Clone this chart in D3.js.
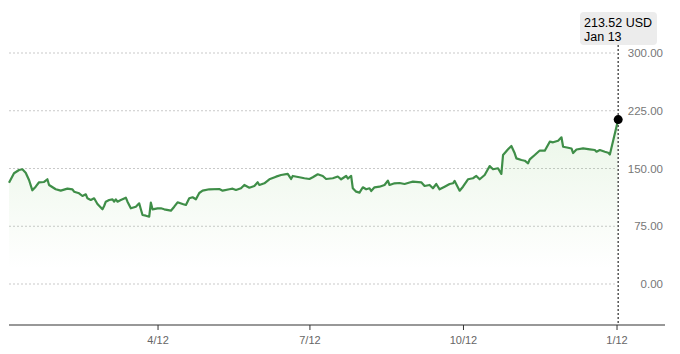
<!DOCTYPE html>
<html>
<head>
<meta charset="utf-8">
<script src="https://cdn.jsdelivr.net/npm/d3@7"></script>
<style>
body { margin: 0; background: #fff; }
svg { display: block; font-family: "Liberation Sans", Arial, sans-serif; }
</style>
</head>
<body>
<div id="canvas_stock"></div>
<script>
// ----------------------------------------------------------
// DATA -----------------------------------------------------
// ----------------------------------------------------------
var price_dates = [
"2021-01-13","2021-01-16","2021-01-19","2021-01-21","2021-01-23","2021-01-25","2021-01-27","2021-01-29","2021-01-31",
"2021-02-03","2021-02-05","2021-02-06","2021-02-10","2021-02-13","2021-02-17","2021-02-20","2021-02-21","2021-02-24","2021-02-26","2021-02-28",
"2021-03-01","2021-03-03","2021-03-05","2021-03-07","2021-03-10","2021-03-11","2021-03-12","2021-03-14","2021-03-16","2021-03-17","2021-03-18","2021-03-19","2021-03-21","2021-03-24","2021-03-25","2021-03-27","2021-03-30",
"2021-04-01","2021-04-02","2021-04-03","2021-04-05","2021-04-07","2021-04-08","2021-04-09","2021-04-12","2021-04-14","2021-04-16","2021-04-20","2021-04-22","2021-04-24","2021-04-27","2021-04-29",
"2021-05-01","2021-05-03","2021-05-05","2021-05-07","2021-05-09","2021-05-13","2021-05-19","2021-05-21","2021-05-25","2021-05-27","2021-05-29",
"2021-06-01","2021-06-03","2021-06-06","2021-06-09","2021-06-11","2021-06-12","2021-06-15","2021-06-18","2021-06-22","2021-06-25","2021-06-29",
"2021-07-01","2021-07-02","2021-07-06","2021-07-09","2021-07-12","2021-07-14","2021-07-17","2021-07-20","2021-07-22","2021-07-26","2021-07-29","2021-07-31",
"2021-08-03","2021-08-04","2021-08-06","2021-08-07","2021-08-09","2021-08-11","2021-08-13","2021-08-15","2021-08-17","2021-08-18","2021-08-20","2021-08-23","2021-08-26","2021-08-28","2021-08-29",
"2021-09-01","2021-09-04","2021-09-07","2021-09-10","2021-09-12","2021-09-17","2021-09-19","2021-09-22","2021-09-24","2021-09-26","2021-09-28",
"2021-10-01","2021-10-04","2021-10-06","2021-10-07","2021-10-10","2021-10-12","2021-10-15","2021-10-18","2021-10-20","2021-10-22","2021-10-25","2021-10-28","2021-10-30",
"2021-11-02","2021-11-04","2021-11-05","2021-11-08","2021-11-10","2021-11-12","2021-11-13","2021-11-16","2021-11-18","2021-11-20","2021-11-21","2021-11-24","2021-11-27","2021-11-30",
"2021-12-03","2021-12-05","2021-12-08","2021-12-10","2021-12-11","2021-12-14","2021-12-16","2021-12-17","2021-12-19","2021-12-23","2021-12-27","2021-12-30","2021-12-31",
"2022-01-02","2022-01-05","2022-01-07","2022-01-08","2022-01-13"
];
var price_values = [
131.6,143.8,148.1,149.0,144.5,135.1,121.7,126.4,132.1,
132.5,136.0,128.6,123.0,121.2,123.8,123.0,119.9,117.8,114.3,116.5,
111.3,109.1,111.3,103.9,97.0,101.3,106.9,109.1,110.0,106.9,110.0,106.9,109.1,112.1,106.9,98.3,100.4,
104.8,97.0,89.6,88.7,87.4,105.6,97.0,98.3,98.3,97.0,95.2,100.4,106.1,103.9,102.6,
111.3,112.6,110.0,118.2,121.2,123.0,123.4,121.2,123.0,123.8,122.1,
124.3,128.6,125.1,127.3,132.1,128.6,130.8,136.0,139.4,141.6,143.1,
136.4,140.3,138.6,137.3,136.4,138.6,142.5,140.3,136.4,137.3,139.6,136.0,
140.3,137.0,140.3,124.3,119.9,118.6,125.6,123.0,124.3,120.8,125.6,126.4,128.6,134.2,128.6,
130.8,131.2,129.9,131.8,132.9,132.1,127.3,128.6,124.3,129.9,123.0,
126.4,129.9,130.8,133.8,121.2,126.4,136.0,137.3,140.3,136.0,141.6,153.2,149.0,
150.3,142.9,167.5,174.9,179.2,169.7,163.2,161.0,160.1,156.8,161.9,167.5,173.4,173.1,
184.8,184.0,186.1,190.5,178.3,177.0,176.0,170.1,174.7,176.2,174.9,174.0,171.8,
174.0,171.8,170.5,168.2,213.52
];
var y_ticks = [0, 75, 150, 225, 300];
var x_ticks = ["2021-04-12", "2021-07-12", "2021-10-12", "2022-01-12"];
var tooltip_price = "213.52 USD";
var tooltip_date = "Jan 13";

// ----------------------------------------------------------
// STRUCTURE ------------------------------------------------
// ----------------------------------------------------------
var width = 680, height = 354;
var parseDate = d3.timeParse("%Y-%m-%d");

var points = price_dates.map(function(d, i) {
  return { date: parseDate(d), value: price_values[i] };
});

var svg = d3.select("#canvas_stock").append("svg")
  .attr("width", width)
  .attr("height", height)
  .style("background-color", "#fff");

var xScale = d3.scaleTime()
  .domain([parseDate("2021-01-13"), parseDate("2022-01-13")])
  .range([9, 618.2]);

var yScale = d3.scaleLinear()
  .domain([0, 300])
  .range([284, 53]);

var axis_y = 325;
var last = points[points.length - 1];

// gradient for area
var defs = svg.append("defs");
var grad = defs.append("linearGradient")
  .attr("id", "area_grad")
  .attr("gradientUnits", "userSpaceOnUse")
  .attr("x1", 0).attr("x2", 0)
  .attr("y1", yScale(190)).attr("y2", yScale(20));
grad.append("stop").attr("offset", 0).attr("stop-color", "#7cc56a").attr("stop-opacity", 0.14);
grad.append("stop").attr("offset", 1).attr("stop-color", "#7cc56a").attr("stop-opacity", 0);

// ----------------------------------------------------------
// GRID + Y LABELS ------------------------------------------
// ----------------------------------------------------------
var grid = svg.append("g").attr("class", "grid");
grid.selectAll("line")
  .data(y_ticks)
  .enter().append("line")
  .attr("x1", 9)
  .attr("x2", 615)
  .attr("y1", function(d) { return yScale(d); })
  .attr("y2", function(d) { return yScale(d); })
  .attr("stroke", "#c9c9c9")
  .attr("stroke-width", 1)
  .attr("stroke-dasharray", "2,2");

grid.selectAll("text")
  .data(y_ticks)
  .enter().append("text")
  .attr("x", 663)
  .attr("y", function(d) { return yScale(d); })
  .attr("dy", "0.35em")
  .attr("text-anchor", "end")
  .style("font-size", "11.5px")
  .style("fill", "#777")
  .text(function(d) { return d3.format(".2f")(d); });

// ----------------------------------------------------------
// AREA + LINE ----------------------------------------------
// ----------------------------------------------------------
svg.append("path")
  .datum(points)
  .attr("fill", "url(#area_grad)")
  .attr("d", d3.area()
    .x(function(d) { return xScale(d.date); })
    .y0(yScale(0))
    .y1(function(d) { return yScale(d.value); }));

svg.append("path")
  .datum(points)
  .attr("fill", "none")
  .attr("stroke", "#3f8e48")
  .attr("stroke-width", 2.2)
  .attr("stroke-linejoin", "round")
  .attr("d", d3.line()
    .x(function(d) { return xScale(d.date); })
    .y(function(d) { return yScale(d.value); }));

// ----------------------------------------------------------
// X AXIS ---------------------------------------------------
// ----------------------------------------------------------
var xAxis = svg.append("g")
  .attr("transform", "translate(0," + axis_y + ")")
  .call(d3.axisBottom(xScale)
    .tickValues(x_ticks.map(parseDate))
    .tickSize(5)
    .tickFormat(d3.timeFormat("%-m/%-d")));
xAxis.select(".domain").remove();
xAxis.selectAll(".tick line").attr("stroke", "#333");
xAxis.selectAll(".tick text")
  .attr("y", 11)
  .style("font-size", "11px")
  .style("font-family", "Liberation Sans, Arial, sans-serif")
  .style("fill", "#666");

svg.append("line")
  .attr("x1", 9).attr("x2", 665)
  .attr("y1", axis_y).attr("y2", axis_y)
  .attr("stroke", "#333")
  .attr("stroke-width", 1.2);

// ----------------------------------------------------------
// HOVER MARKER ---------------------------------------------
// ----------------------------------------------------------
svg.append("line")
  .attr("x1", xScale(last.date)).attr("x2", xScale(last.date))
  .attr("y1", 45).attr("y2", axis_y)
  .attr("stroke", "#555")
  .attr("stroke-width", 1.5)
  .attr("stroke-dasharray", "2,2");

svg.append("circle")
  .attr("cx", xScale(last.date))
  .attr("cy", yScale(last.value))
  .attr("r", 4.5)
  .attr("fill", "#000");

var tip = svg.append("g").attr("class", "tooltip");
tip.append("rect")
  .attr("x", 580).attr("y", 12)
  .attr("width", 77).attr("height", 33)
  .attr("rx", 4)
  .attr("fill", "#ececec");
tip.append("text")
  .attr("x", 584).attr("y", 27)
  .style("font-size", "12.5px")
  .style("fill", "#000")
  .text(tooltip_price);
tip.append("text")
  .attr("x", 584).attr("y", 41)
  .style("font-size", "12.5px")
  .style("fill", "#000")
  .text(tooltip_date);
</script>
</body>
</html>
